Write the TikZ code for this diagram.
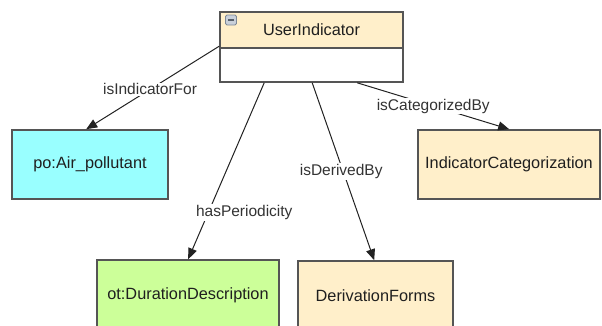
\documentclass[tikz,border=0pt]{standalone}
\usepackage{fontspec}
\setmainfont{Liberation Sans}
\usetikzlibrary{arrows.meta,calc}

\definecolor{boxline}{HTML}{555555}
\definecolor{peach}{HTML}{FFEFCA}
\definecolor{aqua}{HTML}{99FFFF}
\definecolor{lime}{HTML}{CCFF99}
\definecolor{edgeline}{HTML}{222222}
\definecolor{lbltext}{HTML}{333333}
\definecolor{icongray}{HTML}{C9D0DA}
\definecolor{iconedge}{HTML}{7D8896}

\tikzset{
  classbox/.style={draw=boxline, line width=1.6pt, rectangle, inner sep=0pt,
    font=\fontsize{16.3}{20}\selectfont, text=black!88},
  rel/.style={draw=edgeline, line width=1pt,
    -{Triangle[length=11pt,width=9pt]}},
  lbl/.style={fill=white, inner sep=1pt, text=lbltext,
    font=\fontsize{15.5}{19}\selectfont},
  minicon/.style={draw=iconedge, fill=icongray, line width=0.8pt,
    rounded corners=1.5pt, minimum width=11pt, minimum height=10pt, inner sep=0pt}
}

\begin{document}
\begin{tikzpicture}[x=1pt,y=-1pt]
  \useasboundingbox (0,0) rectangle (602,325);
  \clip (0,0) rectangle (602,325);

  % central class with its header compartment
  \node[classbox, fill=white, minimum width=183pt, minimum height=70pt] (ui) at (311.5,47) {};
  \node[classbox, fill=peach, minimum width=183pt, minimum height=36pt, anchor=north] (uihead) at (ui.north) {UserIndicator};
  \node[minicon] (uiicon) at (231,20) {};
  \draw[iconedge!70!black, line width=1.2pt] ($(uiicon.center)+(-3,0)$) -- ($(uiicon.center)+(3,0)$);

  % related classes
  \node[classbox, fill=aqua, minimum width=156pt, minimum height=69pt] (air) at (90,164.5) {po:Air\_pollutant};
  \node[classbox, fill=peach, minimum width=182pt, minimum height=69pt] (cat) at (509,164.5) {IndicatorCategorization};
  \node[classbox, fill=lime, minimum width=182pt, minimum height=70pt] (dur) at (188,295) {ot:DurationDescription};
  \node[classbox, fill=peach, minimum width=155pt, minimum height=70pt] (der) at (375.5,296) {DerivationForms};

  % relations
  \draw[rel] ($(ui.north west)+(0,35)$) -- node[lbl, pos=0.52] {isIndicatorFor} ($(air.north west)+(75,0)$);
  \draw[rel] ($(ui.south west)+(45,0)$) -- node[lbl, pos=0.736, xshift=36pt] {hasPeriodicity} ($(dur.north west)+(92,0)$);
  \draw[rel] ($(ui.south west)+(93,0)$) -- node[lbl, pos=0.5, xshift=-2pt] {isDerivedBy} ($(der.north west)+(77,0)$);
  \draw[rel] ($(ui.south west)+(138,0)$) -- node[lbl, pos=0.5] {isCategorizedBy} ($(cat.north west)+(92,0)$);
\end{tikzpicture}
\end{document}
